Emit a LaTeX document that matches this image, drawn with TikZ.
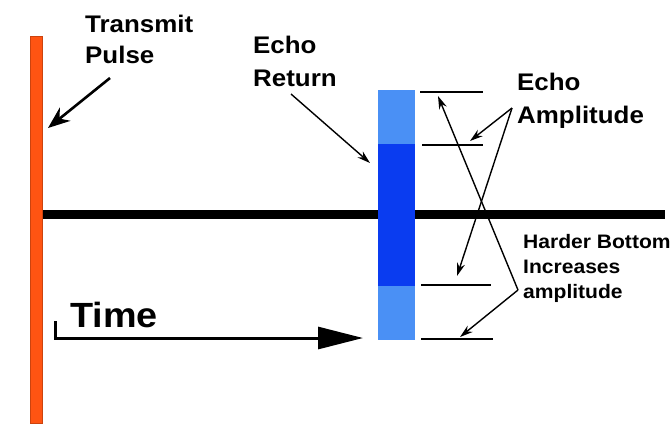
\documentclass[tikz,border=0pt]{standalone}
\usepackage{fontspec}
\setmainfont{Liberation Sans}
\newfontfamily\lblfont[FakeStretch=1.08]{Liberation Sans}
\usetikzlibrary{arrows.meta}
\definecolor{pulseorange}{RGB}{255,84,18}
\definecolor{lightblu}{RGB}{74,144,245}
\definecolor{darkblu}{RGB}{10,60,240}
\tikzset{
  lbl/.style={inner sep=0pt, anchor=base west, font=\lblfont\bfseries\fontsize{24}{24}\selectfont},
  smalllbl/.style={inner sep=0pt, anchor=base west, font=\lblfont\bfseries\fontsize{19.5}{19.5}\selectfont},
  timelbl/.style={inner sep=0pt, anchor=base west, font=\lblfont\bfseries\fontsize{35}{35}\selectfont},
  thinarrow/.style={line width=1.4pt, -{Stealth[length=13pt,width=8pt]}},
  thickarrow/.style={line width=2.6pt, -{Stealth[length=22pt,width=17pt]}},
  levelline/.style={line width=2.8pt},
}
\begin{document}
\begin{tikzpicture}[x=1pt,y=-1pt]
\useasboundingbox (0,0) rectangle (671,440);
% time axis
\draw[line width=9pt] (40,214.5) -- (665,214.5);
% echo return bar
\fill[lightblu] (378,90) rectangle (415,340);
\fill[darkblu] (378,144) rectangle (415,286);
% transmit pulse
\draw[pulseorange!80!black, fill=pulseorange, line width=0.6pt] (30,36) rectangle (42,423);
% amplitude level lines
\draw[levelline] (420,92) coordinate (l1a) -- (483,92) coordinate (l1b);
\draw[levelline] (422,145) coordinate (l2a) -- (483,145) coordinate (l2b);
\draw[levelline] (421,285) coordinate (l3a) -- (491,285) coordinate (l3b);
\draw[levelline] (421,339) coordinate (l4a) -- (493,339) coordinate (l4b);
% labels
\node[lbl] (tp1) at (85,32) {Transmit};
\node[lbl] (tp2) at (85,63) {Pulse};
\node[lbl] (er1) at (253,53) {Echo};
\node[lbl] (er2) at (253,86) {Return};
\node[lbl] (ea1) at (517,90) {Echo};
\node[lbl] (ea2) at (517,123) {Amplitude};
\node[smalllbl] (hb1) at (523,248) {Harder Bottom};
\node[smalllbl] (hb2) at (523,273) {Increases};
\node[smalllbl] (hb3) at (523,298) {amplitude};
\node[timelbl] (tm) at (70,327) {Time};
% arrow anchor points
\coordinate (tpS) at (110,78);
\coordinate (tpE) at (48,128);
\coordinate (erS) at (291,94);
\coordinate (erE) at (370,163);
\coordinate (eaS) at (512,108);
\coordinate (hbS) at (518,290);
% arrows
\draw[thinarrow] (erS) -- (erE);
\draw[thickarrow] (tpS) -- (tpE);
\draw[thinarrow] (eaS) -- (470,141);
\draw[thinarrow] (eaS) -- (457,276);
\draw[thinarrow] (hbS) -- (438,96);
\draw[thinarrow] (hbS) -- (460,337);
% time arrow
\coordinate (tA) at (55,321);
\coordinate (tB) at (55,338);
\coordinate (tC) at (363,338);
\draw[line width=3pt, -{Triangle[length=45pt,width=22pt]}] (tA) -- (tB) -- (tC);
\end{tikzpicture}
\end{document}
